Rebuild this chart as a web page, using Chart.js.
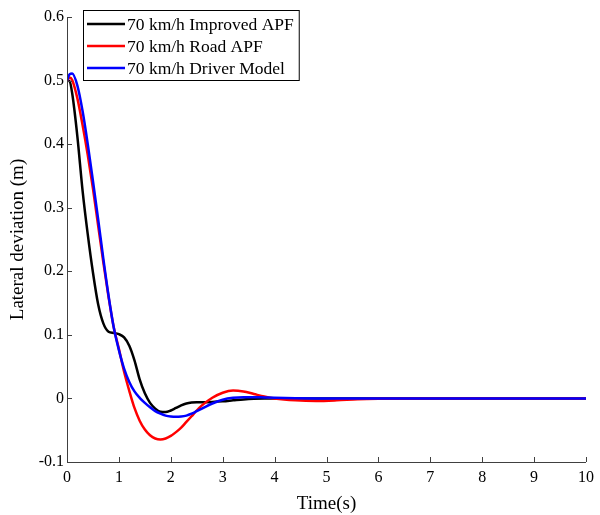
<!DOCTYPE html>
<html>
<head>
<meta charset="utf-8">
<script src="https://cdn.jsdelivr.net/npm/chart.js@4/dist/chart.umd.min.js"></script>
<style>
  html, body { margin: 0; padding: 0; background: #fff; }
  #wrap { width: 600px; height: 515px; }
</style>
</head>
<body>
<div id="wrap"><canvas id="lateral-chart"></canvas></div>
<script>
// time axis (s)
var times = [0, 0.05, 0.1, 0.2, 0.3, 0.4, 0.5, 0.6, 0.7, 0.8, 0.9, 1.0, 1.1, 1.2, 1.3, 1.4, 1.5, 1.6, 1.7, 1.8, 1.9, 2.0,
    2.1, 2.2, 2.3, 2.4, 2.5, 2.6, 2.8, 3.0, 3.2, 3.4, 3.6, 3.8, 4.0, 4.4, 4.8, 5.2, 5.6, 6, 7, 8, 9, 10];

// lateral deviation (m)
var improvedApf = [0.500, 0.499, 0.480, 0.412, 0.327, 0.258, 0.198, 0.148, 0.118, 0.105, 0.103, 0.101, 0.096, 0.083, 0.060, 0.030, 0.008, -0.007, -0.016, -0.021, -0.0215, -0.019,
    -0.015, -0.011, -0.008, -0.0065, -0.006, -0.006, -0.0055, -0.0045, -0.003, -0.0015, -0.0005, 0, 0, 0, 0, 0, 0, 0, 0, 0, 0, 0];
var roadApf = [0.500, 0.505, 0.501, 0.472, 0.430, 0.383, 0.330, 0.272, 0.214, 0.160, 0.112, 0.078, 0.042, 0.012, -0.015, -0.035, -0.049, -0.058, -0.063, -0.0645, -0.063, -0.059,
    -0.053, -0.046, -0.037, -0.028, -0.019, -0.011, 0.001, 0.009, 0.0125, 0.011, 0.007, 0.003, 0.000, -0.003, -0.004, -0.003, -0.0012, -0.0004, 0, 0, 0, 0];
var driverModel = [0.500, 0.510, 0.511, 0.492, 0.452, 0.400, 0.342, 0.282, 0.220, 0.162, 0.112, 0.076, 0.047, 0.026, 0.011, 0.001, -0.007, -0.014, -0.020, -0.024, -0.027, -0.0285,
    -0.029, -0.0285, -0.027, -0.024, -0.020, -0.016, -0.008, -0.002, 0.001, 0.002, 0.002, 0.0015, 0.001, 0.0003, 0, 0, 0, 0, 0, 0, 0, 0];

var seriesNames = ['70 km/h Improved APF', '70 km/h Road APF', '70 km/h Driver Model'];
var seriesColors = ['#000000', '#ff0000', '#0000ff'];

var xTicks = [0, 1, 2, 3, 4, 5, 6, 7, 8, 9, 10];
var yTicks = [-0.1, 0, 0.1, 0.2, 0.3, 0.4, 0.5, 0.6];

var serif = '"Liberation Serif", "Times New Roman", serif';

function toPoints(values) {
    return times.map(function (t, i) { return {x: t, y: values[i]}; });
}

// inward tick marks, left/bottom axis lines and the boxed legend
var axisPlugin = {
    id: 'axisPlugin',
    afterDraw: function (chart) {
        var ctx = chart.ctx, a = chart.chartArea;
        var xs = chart.scales.x, ys = chart.scales.y;
        ctx.save();
        ctx.strokeStyle = '#404040';
        ctx.lineWidth = 1;
        ctx.beginPath();
        ctx.moveTo(a.left + 0.5, a.top);
        ctx.lineTo(a.left + 0.5, a.bottom + 0.5);
        ctx.lineTo(a.right, a.bottom + 0.5);
        xTicks.forEach(function (v) {
            var px = Math.round(xs.getPixelForValue(v)) + 0.5;
            ctx.moveTo(px, a.bottom);
            ctx.lineTo(px, a.bottom - 5);
        });
        yTicks.forEach(function (v) {
            var py = Math.round(ys.getPixelForValue(v)) + 0.5;
            ctx.moveTo(a.left, py);
            ctx.lineTo(a.left + 5, py);
        });
        ctx.stroke();

        // legend
        ctx.font = '17.5px ' + serif;
        var maxW = 0;
        seriesNames.forEach(function (n) { maxW = Math.max(maxW, ctx.measureText(n).width); });
        var bx = 83, by = 10, lineLen = 38, rowH = 22;
        var bw = 4 + lineLen + 3 + maxW + 4, bh = 70;
        ctx.fillStyle = '#fff';
        ctx.fillRect(bx, by, bw, bh);
        ctx.strokeStyle = '#000';
        ctx.strokeRect(bx + 0.5, by + 0.5, bw, bh);
        ctx.textBaseline = 'middle';
        seriesNames.forEach(function (n, i) {
            var ry = by + 14 + i * rowH;
            ctx.strokeStyle = seriesColors[i];
            ctx.lineWidth = 2.5;
            ctx.beginPath();
            ctx.moveTo(bx + 4, ry);
            ctx.lineTo(bx + 4 + lineLen, ry);
            ctx.stroke();
            ctx.fillStyle = '#000';
            ctx.fillText(n, bx + 4 + lineLen + 2, ry + 1);
        });
        ctx.restore();
    }
};

var datasets = [improvedApf, roadApf, driverModel].map(function (vals, i) {
    return {
        label: seriesNames[i],
        data: toPoints(vals),
        borderColor: seriesColors[i],
        backgroundColor: seriesColors[i],
        borderWidth: 2.5,
        pointRadius: 0,
        cubicInterpolationMode: 'monotone',
        fill: false
    };
});
// black drawn last (on top)
datasets.reverse();

var chart = new Chart(document.getElementById('lateral-chart'), {
    type: 'line',
    data: {datasets: datasets},
    options: {
        responsive: true, maintainAspectRatio: false, animation: false,
        layout: {padding: {left: 7, top: 17, right: 13, bottom: 0}},
        plugins: {
            legend: {display: false},
            tooltip: {enabled: false}
        },
        scales: {
            x: {
                type: 'linear', min: 0, max: 10,
                afterBuildTicks: function (s) { s.ticks = xTicks.map(function (v) { return {value: v}; }); },
                afterFit: function (s) { s.height = 53; },
                grid: {display: false, drawTicks: false},
                border: {display: false},
                ticks: {color: '#000', font: {family: serif, size: 16}, padding: 6, maxRotation: 0},
                title: {display: true, text: 'Time(s)', color: '#000', font: {family: serif, size: 19}, padding: {top: 0, bottom: 0}}
            },
            y: {
                min: -0.1, max: 0.6,
                afterBuildTicks: function (s) { s.ticks = yTicks.map(function (v) { return {value: v}; }); },
                afterFit: function (s) { s.width = 60; },
                grid: {display: false, drawTicks: false},
                border: {display: false},
                ticks: {
                    color: '#000', font: {family: serif, size: 16}, padding: 3,
                    callback: function (v) { return Math.abs(v) < 1e-9 ? '0' : (Math.round(v * 10) / 10).toFixed(1); }
                },
                title: {display: true, text: 'Lateral deviation (m)', color: '#000', font: {family: serif, size: 19}, padding: {top: 0, bottom: 4}}
            }
        }
    },
    plugins: [axisPlugin]
});
</script>
</body>
</html>
